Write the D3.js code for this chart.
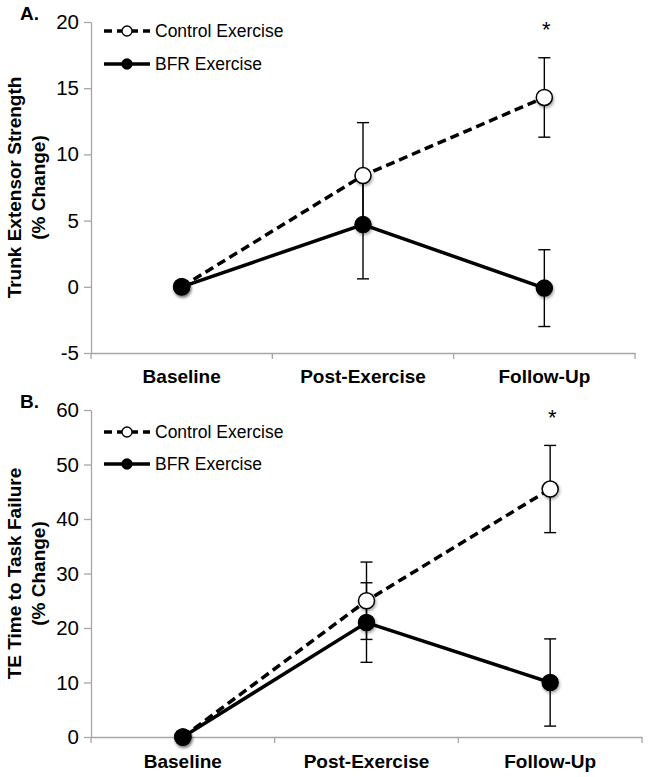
<!DOCTYPE html>
<html>
<head>
<meta charset="utf-8">
<script src="https://cdn.jsdelivr.net/npm/d3@7"></script>
<style>
  body { margin: 0; background: #fff; }
  svg { display: block; font-family: "Liberation Sans", Arial, sans-serif; }
</style>
</head>
<body>
<svg id="chart" width="650" height="777"></svg>
<script>
// data (% change from baseline, mean +/- error)
var categories = ["Baseline", "Post-Exercise", "Follow-Up"];
var seriesNames = ["Control Exercise", "BFR Exercise"];

var strengthTicks = [-5, 0, 5, 10, 15, 20];
var strengthControl = [0, 8.4, 14.3];
var strengthControlErr = [0, 4.0, 3.0];
var strengthBFR = [0, 4.7, -0.1];
var strengthBFRErr = [0, 4.1, 2.9];

var failureTicks = [0, 10, 20, 30, 40, 50, 60];
var failureControl = [0, 25.0, 45.5];
var failureControlErr = [0, 7.1, 8.0];
var failureBFR = [0, 21.0, 10.0];
var failureBFRErr = [0, 7.3, 8.0];

var svg = d3.select('#chart');
var axisColor = '#a6a6a6';

// soft shadow under the markers
var defs = svg.append('defs');
var shadow = defs.append('filter').attr('id', 'shadow')
    .attr('x', '-50%').attr('y', '-50%').attr('width', '200%').attr('height', '200%');
shadow.append('feDropShadow')
    .attr('dx', 1).attr('dy', 2).attr('stdDeviation', 1.5)
    .attr('flood-color', '#000').attr('flood-opacity', 0.35);

function drawPanel(p) {
    let x = d3.scaleBand().domain(categories).range([p.left, p.right]);
    let y = d3.scaleLinear().domain(d3.extent(p.ticks)).range([p.bottom, p.top]);
    let cx = d => x(d) + x.bandwidth() / 2;
    let g = svg.append('g');

    // y axis (plain hyphen for negatives, like the original)
    let yAxis = g.append('g')
        .attr('transform', `translate(${p.left},0)`)
        .call(d3.axisLeft(y).tickValues(p.ticks).tickFormat(d => String(d))
            .tickSize(7).tickSizeOuter(0).tickPadding(5));
    yAxis.select('.domain').attr('stroke', axisColor).attr('stroke-width', 1.3);
    yAxis.selectAll('.tick line').attr('stroke', axisColor).attr('stroke-width', 1.3);
    yAxis.selectAll('.tick text')
        .style('font-size', '20.5px')
        .style('font-family', '"Liberation Sans", Arial, sans-serif')
        .attr('fill', '#000');

    // x axis: labels at band centres, tick marks at band edges
    let xAxis = g.append('g')
        .attr('transform', `translate(0,${y(p.ticks[0])})`)
        .call(d3.axisBottom(x).tickSize(0).tickPadding(p.labelPad));
    xAxis.select('.domain').attr('stroke', axisColor).attr('stroke-width', 1.3);
    xAxis.selectAll('.tick text')
        .style('font-size', '19px')
        .style('font-weight', 'bold')
        .style('font-family', '"Liberation Sans", Arial, sans-serif')
        .attr('fill', '#000');
    let edges = categories.map(c => x(c)).concat([x.range()[1]]);
    xAxis.selectAll('.edge').data(edges).enter().append('line')
        .attr('class', 'edge')
        .attr('x1', d => d).attr('x2', d => d)
        .attr('y1', 0).attr('y2', 6)
        .attr('stroke', axisColor).attr('stroke-width', 1.3);

    // y title, two lines
    let titleY = (p.top + p.bottom) / 2 + p.titleShift;
    p.title.forEach((t, i) => {
        g.append('text')
            .attr('transform', `translate(${i === 0 ? 21 : 45},${titleY}) rotate(-90)`)
            .attr('text-anchor', 'middle')
            .style('font-size', '19px')
            .style('font-weight', 'bold')
            .text(t);
    });

    // panel letter
    g.append('text')
        .attr('x', 20).attr('y', p.top - 2)
        .style('font-size', '19px')
        .style('font-weight', 'bold')
        .text(p.letter);

    let line = d3.line().x((d, i) => cx(categories[i])).y(d => y(d));

    let series = [
        { values: p.control, errs: p.controlErr, dash: '9,5', fill: '#fff' },
        { values: p.bfr, errs: p.bfrErr, dash: null, fill: '#000' }
    ];

    // error bars
    series.forEach(s => {
        s.values.forEach((v, i) => {
            if (!s.errs[i]) return;
            let xc = cx(categories[i]);
            let eb = g.append('g').attr('stroke', '#000').attr('stroke-width', 1.4);
            eb.append('line').attr('x1', xc).attr('x2', xc)
                .attr('y1', y(v - s.errs[i])).attr('y2', y(v + s.errs[i]));
            [v - s.errs[i], v + s.errs[i]].forEach(e => {
                eb.append('line').attr('x1', xc - 6).attr('x2', xc + 6)
                    .attr('y1', y(e)).attr('y2', y(e));
            });
        });
    });

    // lines and markers
    series.forEach(s => {
        g.append('path')
            .datum(s.values)
            .attr('fill', 'none')
            .attr('stroke', '#000')
            .attr('stroke-width', 3.5)
            .attr('stroke-dasharray', s.dash)
            .attr('d', line);
    });
    series.forEach(s => {
        g.selectAll(null).data(s.values).enter().append('circle')
            .attr('cx', (d, i) => cx(categories[i]))
            .attr('cy', d => y(d))
            .attr('r', 8)
            .attr('fill', s.fill)
            .attr('stroke', '#000')
            .attr('stroke-width', 1.5)
            .attr('filter', 'url(#shadow)');
    });

    // significance star over follow-up
    g.append('text')
        .attr('x', cx(categories[2]) + 2)
        .attr('y', p.starY)
        .attr('text-anchor', 'middle')
        .style('font-size', '22px')
        .text('*');

    // legend
    series.forEach((s, i) => {
        let ly = p.legendY[i];
        g.append('line')
            .attr('x1', 104).attr('x2', 150)
            .attr('y1', ly).attr('y2', ly)
            .attr('stroke', '#000').attr('stroke-width', 3.5)
            .attr('stroke-dasharray', s.dash ? '8,5' : null);
        g.append('circle')
            .attr('cx', 127).attr('cy', ly).attr('r', 5)
            .attr('fill', s.fill).attr('stroke', '#000').attr('stroke-width', 1.3);
        g.append('text')
            .attr('x', 155).attr('y', ly + 6)
            .style('font-size', '17.5px')
            .text(seriesNames[i]);
    });
}

drawPanel({
    letter: 'A.', ticks: strengthTicks,
    left: 91, right: 635, top: 22, bottom: 353, labelPad: 17,
    title: ['Trunk Extensor Strength', '(% Change)'], titleShift: 0,
    control: strengthControl, controlErr: strengthControlErr,
    bfr: strengthBFR, bfrErr: strengthBFRErr,
    starY: 37, legendY: [31, 64]
});

drawPanel({
    letter: 'B.', ticks: failureTicks,
    left: 91, right: 642, top: 410, bottom: 737, labelPad: 18,
    title: ['TE Time to Task Failure', '(% Change)'], titleShift: 0,
    control: failureControl, controlErr: failureControlErr,
    bfr: failureBFR, bfrErr: failureBFRErr,
    starY: 425, legendY: [432, 464]
});
</script>
</body>
</html>
